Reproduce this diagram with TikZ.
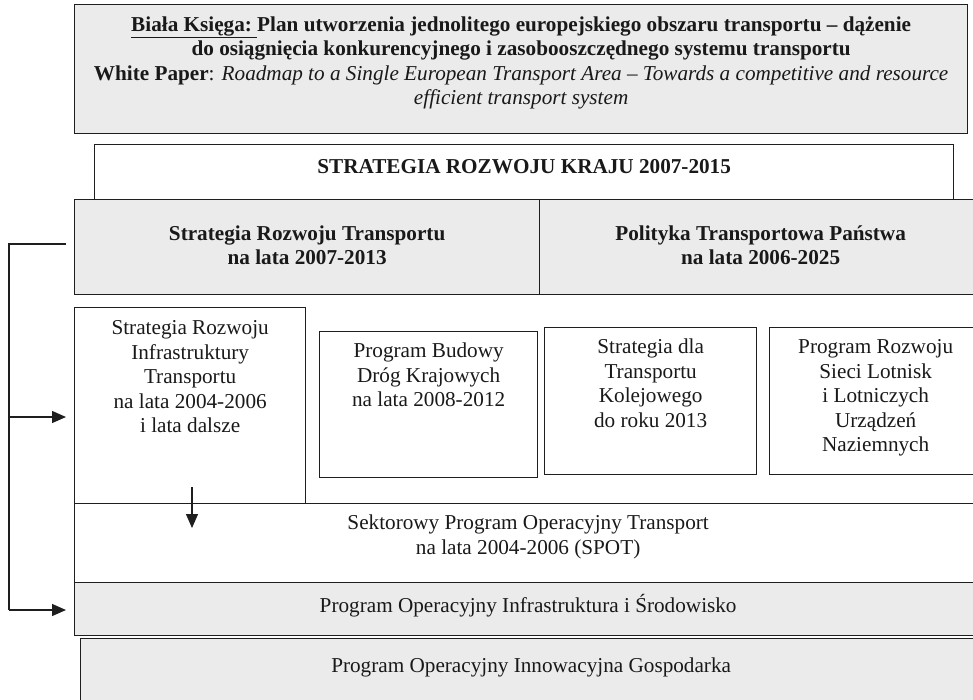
\documentclass[tikz,border=0pt]{standalone}
\usepackage{fontspec}
\setmainfont{Liberation Serif}
\usetikzlibrary{
  positioning,
  arrows.meta,
}

\definecolor{panelgray}{HTML}{EBEBEB}
\definecolor{edgegray}{HTML}{1E1E1E}

\tikzset{
  box/.style={draw=edgegray, line width=1.3pt, inner sep=0pt, anchor=north west},
  graybox/.style={box, fill=panelgray},
  txt/.style={align=center, anchor=base, inner sep=0pt, text=black!90,
    font=\fontsize{21.2}{24.5}\selectfont},
  bold txt/.style={txt, font=\fontsize{21.2}{24.5}\selectfont\bfseries},
  link/.style={draw=edgegray, line width=1.3pt},
  arr/.style={link, -{Triangle[length=14pt,width=12pt]}},
}

\begin{document}
\begin{tikzpicture}[x=1pt,y=-1pt]
\useasboundingbox (0,0) rectangle (973,699);
\clip (0,0) rectangle (973,699);

% frames
\node[graybox, minimum width=893, minimum height=129] (biala) at (74,4) {};
\node[box, minimum width=859, minimum height=55] (srk) at (94,144) {};
\node[graybox, minimum width=465, minimum height=95] (srt) at (74,199) {};
\node[graybox, minimum width=442, minimum height=95] (ptp) at (539,199) {};
\node[box, minimum width=231, minimum height=196] (sri) at (74,307) {};
\node[box, minimum width=218, minimum height=146] (pbdk) at (319,331) {};
\node[box, minimum width=212, minimum height=147] (stk) at (544,327) {};
\node[box, minimum width=212, minimum height=147] (prsl) at (769,327) {};
\node[box, minimum width=907, minimum height=79] (spot) at (74,503) {};
\node[graybox, minimum width=907, minimum height=53] (poiis) at (74,582) {};
\node[graybox, minimum width=901, minimum height=64] (poig) at (80,638) {};

% texts (anchor = baseline of the last line)
\node[txt] (bialaT) at ([yshift=-100.5pt]biala.north) {%
  {\bfseries\underline{Biała Księga:\ }Plan utworzenia jednolitego europejskiego obszaru transportu – dążenie}\\
  {\bfseries do osiągnięcia konkurencyjnego i zasobooszczędnego systemu transportu}\\
  {\bfseries White Paper}: {\itshape Roadmap to a Single European Transport Area – Towards a competitive and resource}\\
  {\itshape efficient transport system}};
\node[bold txt] (srkT) at ([yshift=-29.5pt]srk.north) {STRATEGIA ROZWOJU KRAJU 2007-2015};
\node[bold txt] (srtT) at ([yshift=-65.5pt]srt.north) {Strategia Rozwoju Transportu\\na lata 2007-2013};
\node[bold txt] (ptpT) at ([yshift=-65.5pt]ptp.north) {Polityka Transportowa Państwa\\na lata 2006-2025};
\node[txt] (sriT) at ([yshift=-125.5pt]sri.north) {Strategia Rozwoju\\Infrastruktury\\Transportu\\na lata 2004-2006\\i lata dalsze};
\node[txt] (pbdkT) at ([yshift=-75.5pt]pbdk.north) {Program Budowy\\Dróg Krajowych\\na lata 2008-2012};
\node[txt] (stkT) at ([yshift=-100pt]stk.north) {Strategia dla\\Transportu\\Kolejowego\\do roku 2013};
\node[txt] (prslT) at ([yshift=-124.5pt]prsl.north) {Program Rozwoju\\Sieci Lotnisk\\i Lotniczych\\Urządzeń\\Naziemnych};
\node[txt] (spotT) at ([yshift=-51pt]spot.north) {Sektorowy Program Operacyjny Transport\\na lata 2004-2006 (SPOT)};
\node[txt] (poiisT) at ([yshift=-30.5pt]poiis.north) {Program Operacyjny Infrastruktura i Środowisko};
\node[txt] (poigT) at ([yshift=-34.5pt]poig.north) {Program Operacyjny Innowacyjna Gospodarka};

% connectors
\coordinate (spineTop) at (9,244);
\coordinate (spineMid) at (9,417);
\coordinate (spineBot) at (9,610);
\coordinate (dnA) at (192,487);
\coordinate (dnB) at (192,528);
\draw[link] ([xshift=-8pt]srt.west |- spineTop) -- (spineTop) -- (spineBot);
\draw[arr] (spineMid) -- ([xshift=-8pt]sri.west |- spineMid);
\draw[arr] (spineBot) -- ([xshift=-8pt]poiis.west |- spineBot);
\draw[arr] (dnA) -- (dnB);
\end{tikzpicture}
\end{document}
